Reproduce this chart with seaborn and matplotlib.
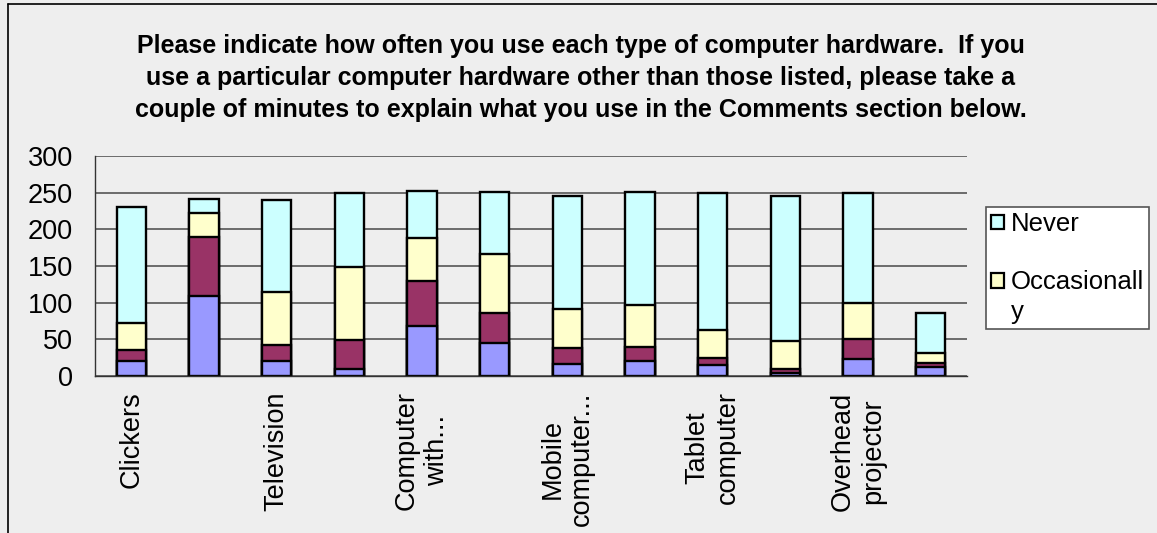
import matplotlib
matplotlib.use("Agg")
import matplotlib.pyplot as plt
from matplotlib.patches import Patch
from matplotlib.lines import Line2D
import numpy as np
import pandas as pd
import seaborn as sns

# ---- data ----
categories = ["Clickers", "Hardware 2", "Television", "Hardware 4", "Computer with...",
              "Hardware 6", "Mobile computer...", "Hardware 8", "Tablet computer",
              "Hardware 10", "Overhead projector", "Hardware 12"]
tick_labels = ["Clickers", "", "Television", "", "Computer\nwith...", "",
               "Mobile\ncomputer...", "", "Tablet\ncomputer", "", "Overhead\nprojector", ""]
series_blue = [20, 109, 21, 9, 68, 45, 17, 20, 15, 4, 23, 12]
series_maroon = [16, 81, 21, 40, 62, 41, 21, 19, 10, 6, 28, 6]
occasionally = [36, 32, 72, 100, 58, 81, 54, 58, 38, 38, 48, 14]
never = [159, 20, 126, 100, 64, 84, 154, 154, 187, 198, 150, 54]
yticks = [0, 50, 100, 150, 200, 250, 300]

title = ("Please indicate how often you use each type of computer hardware.  If you\n"
         "use a particular computer hardware other than those listed, please take a\n"
         "couple of minutes to explain what you use in the Comments section below.")

# ---- style ----
BG = "#EEEEEE"
C_BLUE = "#9999FF"
C_MAROON = "#993366"
C_YELLOW = "#FFFFCC"
C_CYAN = "#CCFFFF"

sns.set_style("white", {"axes.facecolor": BG, "figure.facecolor": BG})
plt.rcParams["font.family"] = ["Liberation Sans", "DejaVu Sans"]
plt.rcParams["text.color"] = "black"
plt.rcParams["xtick.color"] = "black"
plt.rcParams["ytick.color"] = "black"

W, H = 1157, 533
fig = plt.figure(figsize=(W / 100, H / 100), dpi=100)
fig.patch.set_facecolor(BG)

ax_l, ax_r, ax_top, ax_bot = 95, 967, 156, 376
ax = fig.add_axes([ax_l / W, 1 - ax_bot / H, (ax_r - ax_l) / W, (ax_bot - ax_top) / H])
ax.set_facecolor(BG)

df = pd.DataFrame({"cat": categories, "blue": series_blue, "maroon": series_maroon,
                   "occ": occasionally, "never": never})
df["c1"] = df["blue"]
df["c2"] = df["c1"] + df["maroon"]
df["c3"] = df["c2"] + df["occ"]
df["c4"] = df["c3"] + df["never"]

bar_kw = dict(order=categories, width=0.4, edgecolor="black", linewidth=1.7,
              saturation=1, ax=ax, errorbar=None)
for col, color in [("c4", C_CYAN), ("c3", C_YELLOW), ("c2", C_MAROON), ("c1", C_BLUE)]:
    sns.barplot(data=df, x="cat", y=col, color=color, **bar_kw)

ax.set_xlim(-0.5, len(categories) - 0.5)
ax.set_ylim(0, 300)
ax.set_yticks(yticks)
ax.set_yticklabels([str(v) for v in yticks], fontsize=19.5)
ax.set_axisbelow(True)
ax.yaxis.grid(True, color="#555555", linewidth=1.2)
ax.xaxis.grid(False)
ax.set_xlabel("")
ax.set_ylabel("")

ax.set_xticks(range(len(categories)))
ax.set_xticklabels(tick_labels, rotation=90, ha="center", va="top",
                   multialignment="center", fontsize=19.5, color="black")
ax.set_xticks(np.arange(-0.5, len(categories), 1.0), minor=True)
ax.tick_params(axis="x", which="major", length=0, pad=11)
ax.tick_params(axis="x", which="minor", length=6.5, width=1, color="#333333", direction="out")
ax.tick_params(axis="y", which="major", length=7, width=1, color="#333333", direction="out",
               pad=9, labelcolor="black")

for s in ["top", "right"]:
    ax.spines[s].set_visible(False)
for s in ["left", "bottom"]:
    ax.spines[s].set_color("#333333")
    ax.spines[s].set_linewidth(1.0)

# legend
handles = [Patch(facecolor=C_CYAN, edgecolor="black", linewidth=1.6),
           Patch(facecolor="none", edgecolor="none"),
           Patch(facecolor=C_YELLOW, edgecolor="black", linewidth=1.6),
           Patch(facecolor="none", edgecolor="none")]
labels = ["Never", " ", "Occasionall", "y"]
leg = ax.legend(handles, labels, loc="upper left",
                bbox_to_anchor=(986 / W, 1 - 207 / H), bbox_transform=fig.transFigure,
                frameon=True, fancybox=False, shadow=False, facecolor="white",
                edgecolor="#555555", framealpha=1, fontsize=18.5,
                handlelength=0.5, handleheight=0.5, handletextpad=0.25,
                borderpad=0.2, labelspacing=0.2, borderaxespad=0)
leg.get_frame().set_linewidth(1.2)
for t in leg.get_texts():
    t.set_color("black")

# title
fig.text(581 / W, 1 - 34 / H, title, ha="center", va="top", fontsize=18,
         fontweight="bold", color="black", linespacing=1.42)

# outer chart border (top and left edges visible)
fig.add_artist(Line2D([8 / W, 8 / W], [0, 1 - 4 / H], transform=fig.transFigure,
                      color="black", linewidth=1.2))
fig.add_artist(Line2D([8 / W, 1], [1 - 4 / H, 1 - 4 / H], transform=fig.transFigure,
                      color="black", linewidth=1.2))

fig.savefig("out.png", dpi=100, facecolor=BG)
